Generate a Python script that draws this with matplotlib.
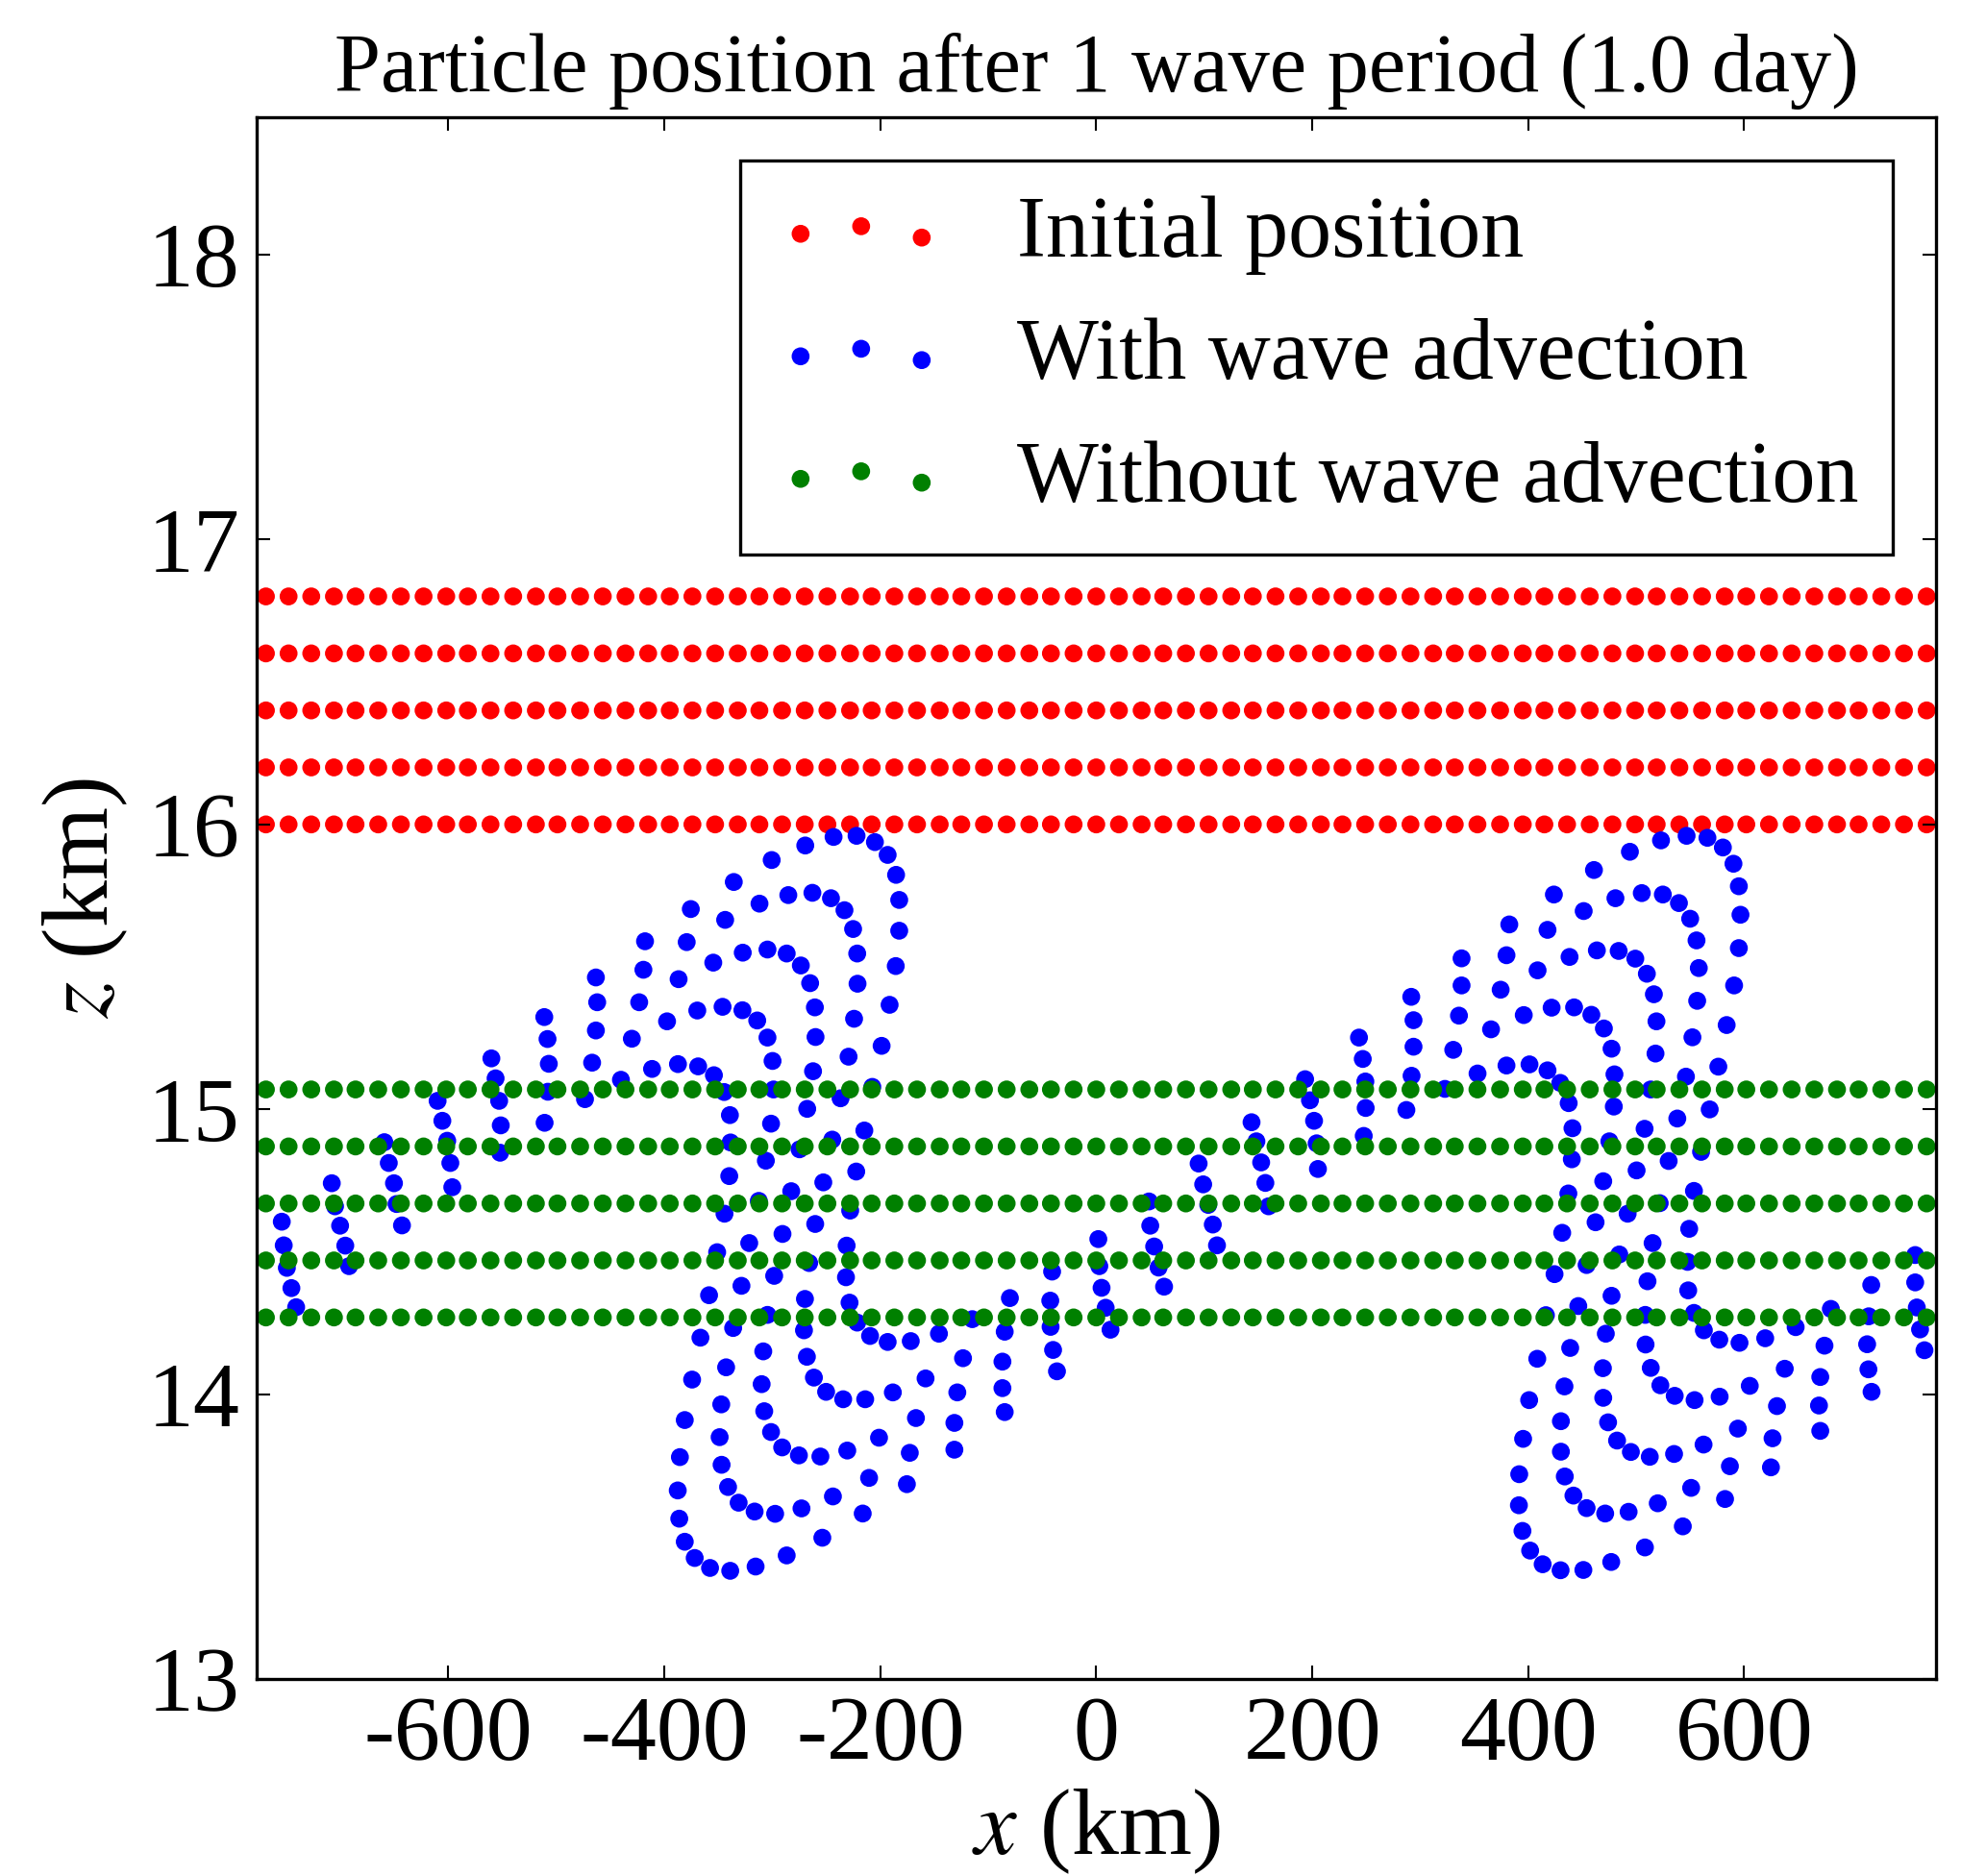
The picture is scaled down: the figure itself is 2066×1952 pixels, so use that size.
import numpy as np
import matplotlib
matplotlib.use("Agg")
import matplotlib.pyplot as plt

plt.rcParams['font.family'] = ['Liberation Serif', 'DejaVu Serif']
plt.rcParams['mathtext.fontset'] = 'stix'
plt.rcParams['axes.unicode_minus'] = False

# -----------------------------
# Particle grid (x in km, z in km)
# -----------------------------
x_grid = [-769, -748, -727, -706, -686, -665, -644, -623, -602, -582, -561,
          -540, -519, -499, -478, -457, -436, -415, -395, -374, -353, -332,
          -312, -291, -270, -249, -228, -208, -187, -166, -145, -125, -104,
          -83, -62, -42, -21, 0, 21, 42, 62, 83, 104, 125, 145, 166, 187,
          208, 228, 249, 270, 291, 312, 332, 353, 374, 395, 415, 436, 457,
          478, 499, 519, 540, 561, 582, 602, 623, 644, 665, 686, 706, 727,
          748, 769]
z_initial = [16.0, 16.2, 16.4, 16.6, 16.8]
z_no_wave = [14.27, 14.47, 14.67, 14.87, 15.07]

# -----------------------------
# Positions with wave advection
# -----------------------------
blue_pts = [
    # left loop, upper part
    (-335.7, 15.798), (-375.5, 15.703), (-343.7, 15.665), (-417.9, 15.590),
    (-379.3, 15.587), (-327.4, 15.550), (-354.7, 15.515), (-419.4, 15.490),
    (-463.4, 15.463), (-386.8, 15.457), (-462.2, 15.376), (-423.3, 15.376),
    (-369.5, 15.347), (-346.1, 15.360), (-327.7, 15.348), (-511.2, 15.324),
    (-397.5, 15.309), (-508.2, 15.247), (-463.4, 15.277), (-430.1, 15.248),
    (-560.2, 15.179), (-507.0, 15.160), (-466.9, 15.164), (-411.4, 15.142),
    (-387.4, 15.159), (-368.7, 15.151), (-354.1, 15.120), (-556.3, 15.109),
    (-440.2, 15.104), (-507.9, 15.062), (-344.6, 15.061), (-610.0, 15.030),
    (-553.0, 15.030), (-473.5, 15.036), (-605.6, 14.960), (-551.5, 14.944),
    (-510.9, 14.953), (-339.3, 14.980), (-659.3, 14.885), (-601.1, 14.890),
    (-338.7, 14.884), (-552.1, 14.848), (-655.2, 14.812), (-598.2, 14.812),
    (-708.0, 14.741), (-650.4, 14.741), (-596.4, 14.727), (-339.9, 14.766),
    (-311.9, 15.722), (-300.6, 15.875), (-269.5, 15.926), (-243.3, 15.956),
    (-222.0, 15.960), (-205.0, 15.938), (-193.2, 15.893), (-185.4, 15.823),
    (-182.5, 15.735), (-182.5, 15.627), (-185.7, 15.503), (-191.4, 15.367),
    (-198.8, 15.223), (-285.2, 15.752), (-262.9, 15.760), (-245.7, 15.741),
    (-233.2, 15.699), (-225.2, 15.633), (-221.4, 15.547), (-221.1, 15.441),
    (-224.3, 15.318), (-229.4, 15.185), (-304.5, 15.561), (-286.7, 15.547),
    (-273.6, 15.505), (-265.0, 15.443), (-260.6, 15.358), (-260.0, 15.254),
    (-262.3, 15.134), (-314.0, 15.312), (-304.5, 15.252), (-299.8, 15.170),
    (-298.9, 15.070), (-207.4, 15.079), (-236.8, 15.039), (-267.7, 15.002),
    (-301.2, 14.950), (-214.8, 14.926), (-244.5, 14.894), (-274.8, 14.860),
    (-306.0, 14.820), (-222.3, 14.782), (-252.8, 14.744), (-282.5, 14.713),
    (94.8, 14.810), (99.0, 14.737),
    # right loop, upper part
    (523.0, 15.944), (546.7, 15.960), (494.2, 15.904), (460.9, 15.840),
    (423.8, 15.754), (480.8, 15.741), (505.2, 15.759), (524.7, 15.754),
    (539.6, 15.724), (550.0, 15.669), (451.4, 15.696), (382.5, 15.649),
    (417.9, 15.630), (555.9, 15.593), (338.3, 15.530), (379.9, 15.541),
    (438.3, 15.535), (463.6, 15.558), (483.8, 15.556), (499.2, 15.529),
    (509.9, 15.476), (408.7, 15.488), (558.0, 15.496), (338.3, 15.435),
    (374.5, 15.420), (516.4, 15.404), (291.7, 15.395), (556.5, 15.381),
    (293.8, 15.313), (335.9, 15.329), (395.9, 15.331), (421.7, 15.357),
    (442.5, 15.358), (458.5, 15.332), (470.1, 15.284), (518.8, 15.309),
    (365.6, 15.281), (293.8, 15.220), (330.6, 15.209), (477.2, 15.213),
    (552.1, 15.253), (517.9, 15.196), (243.3, 15.252), (246.8, 15.177),
    (193.4, 15.106), (249.2, 15.098), (292.0, 15.118), (353.1, 15.126),
    (379.9, 15.154), (401.2, 15.158), (417.9, 15.137), (429.7, 15.093),
    (479.9, 15.123), (546.1, 15.115), (322.9, 15.072), (513.5, 15.070),
    (197.9, 15.032), (249.5, 15.005), (287.2, 14.998), (437.5, 15.022),
    (479.3, 15.010), (143.8, 14.955), (201.7, 14.960), (441.0, 14.934),
    (507.8, 14.932), (538.1, 14.968), (148.3, 14.888), (204.1, 14.881),
    (247.7, 14.907), (475.2, 14.888), (560.1, 14.851), (152.7, 14.814),
    (205.3, 14.791), (440.4, 14.825), (530.1, 14.819), (500.4, 14.786),
    (156.6, 14.742), (469.5, 14.748), (553.5, 14.714), (437.2, 14.705),
    (566.0, 15.953), (580.3, 15.919), (590.1, 15.862), (595.1, 15.783),
    (596.6, 15.683), (595.1, 15.566), (590.7, 15.435), (583.8, 15.296),
    (576.1, 15.150), (568.1, 15.000),
    # right edge, lower part
    (758.4, 14.489), (717.7, 14.384), (758.4, 14.393), (759.9, 14.305),
    (680.3, 14.300), (715.4, 14.274), (647.7, 14.236), (762.9, 14.228),
    (577.0, 14.192), (595.7, 14.181), (619.5, 14.197), (674.4, 14.171),
    (713.9, 14.176), (767.0, 14.155), (637.6, 14.090), (670.5, 14.061),
    (715.1, 14.088), (718.0, 14.009), (605.2, 14.030), (577.3, 13.992),
    (630.4, 13.959), (669.3, 13.961), (594.2, 13.880), (626.3, 13.846),
    (670.5, 13.872), (586.8, 13.748), (624.8, 13.744), (582.3, 13.633),
    # left edge and left loop, lower part
    (-705.0, 14.660), (-648.0, 14.668), (-754.3, 14.606), (-700.3, 14.592),
    (-643.0, 14.593), (-752.5, 14.523), (-695.5, 14.522), (-749.6, 14.444),
    (-692.0, 14.450), (-745.4, 14.373), (-741.0, 14.306), (-344.3, 14.634),
    (-321.4, 14.531), (-351.1, 14.499), (-328.6, 14.381), (-358.6, 14.348),
    (-336.3, 14.233), (-366.6, 14.199), (-342.8, 14.095), (-374.3, 14.052),
    (-347.3, 13.965), (-381.1, 13.910), (-348.8, 13.850), (-385.6, 13.780),
    (-347.0, 13.753), (-387.6, 13.663), (-341.0, 13.675), (-331.2, 13.620),
    (-386.2, 13.564), (-381.1, 13.483), (-371.9, 13.426), (-357.7, 13.391),
    (-339.0, 13.381),
    (-312.5, 14.679), (-227.9, 14.645), (-260.3, 14.598), (-290.6, 14.563),
    (-231.2, 14.522), (-265.9, 14.461), (-298.3, 14.416), (-231.8, 14.411),
    (-269.8, 14.335), (-228.5, 14.322), (-304.5, 14.279), (-221.4, 14.252),
    (-270.7, 14.225), (-209.5, 14.205), (-193.2, 14.184), (-171.8, 14.187),
    (-145.7, 14.213), (-114.8, 14.264), (-308.4, 14.151), (-268.0, 14.132),
    (-123.4, 14.127), (-261.5, 14.059), (-158.1, 14.056), (-309.9, 14.036),
    (-250.2, 14.009), (-234.4, 13.983), (-214.0, 13.983), (-188.4, 14.007),
    (-128.7, 14.007), (-307.5, 13.941), (-167.0, 13.917), (-131.4, 13.900),
    (-301.2, 13.868), (-290.9, 13.814), (-275.4, 13.786), (-255.5, 13.782),
    (-230.6, 13.803), (-201.2, 13.848), (-172.7, 13.795), (-131.4, 13.806),
    (-210.4, 13.707), (-175.4, 13.685), (-316.4, 13.589), (-297.4, 13.581),
    (-273.0, 13.600), (-243.9, 13.642), (-216.3, 13.582), (-253.7, 13.497),
    (-286.7, 13.435), (-315.5, 13.396),
    # middle columns
    (-84.8, 14.220), (-80.0, 14.338), (-86.9, 14.115), (-86.9, 14.022),
    (-84.8, 13.938), (-40.9, 14.431), (-42.6, 14.329), (-42.3, 14.237),
    (-40.0, 14.156), (-36.4, 14.081), (1.9, 14.545), (2.8, 14.450),
    (4.9, 14.374), (8.7, 14.304), (13.2, 14.227), (48.8, 14.677),
    (50.0, 14.592), (53.6, 14.519), (57.7, 14.445), (62.8, 14.378),
    (103.7, 14.665), (107.9, 14.596), (111.8, 14.523),
    # right loop, lower part
    (159.6, 14.660), (492.1, 14.634), (462.4, 14.604), (431.5, 14.567),
    (521.8, 14.671), (549.1, 14.581), (515.2, 14.531), (484.4, 14.491),
    (454.1, 14.454), (424.4, 14.422), (547.6, 14.465), (510.5, 14.397),
    (477.2, 14.346), (446.4, 14.310), (416.4, 14.278), (548.2, 14.365),
    (508.4, 14.279), (553.5, 14.286), (471.9, 14.213), (562.7, 14.225),
    (508.7, 14.175), (438.9, 14.163), (408.4, 14.125), (513.5, 14.093),
    (469.2, 14.092), (522.4, 14.032), (433.6, 14.028), (535.7, 13.995),
    (554.1, 13.980), (400.9, 13.980), (469.5, 13.988), (430.3, 13.906),
    (474.0, 13.902), (395.3, 13.844), (482.3, 13.838), (495.1, 13.798),
    (512.6, 13.781), (535.1, 13.791), (562.4, 13.824), (430.3, 13.799),
    (391.7, 13.720), (433.9, 13.712), (550.9, 13.672), (391.4, 13.611),
    (441.9, 13.645), (454.1, 13.601), (471.3, 13.582), (493.0, 13.588),
    (520.0, 13.618), (543.2, 13.537), (394.7, 13.521), (401.8, 13.452),
    (413.4, 13.404), (430.0, 13.383), (451.1, 13.384), (476.9, 13.412),
    (508.1, 13.463),
]
blue_x = [p[0] for p in blue_pts]
blue_z = [p[1] for p in blue_pts]

# -----------------------------
# Figure
# -----------------------------
fig = plt.figure(figsize=(2066 / 300, 1952 / 300), dpi=300)
ax = fig.add_axes([0.1290, 0.1048, 0.8460, 0.8325])

xr, zr = np.meshgrid(x_grid, z_initial)
xg, zg = np.meshgrid(x_grid, z_no_wave)

ax.scatter(xr.ravel(), zr.ravel(), s=20, c='r', edgecolors='none',
           label='Initial position')
ax.scatter(blue_x, blue_z, s=20, c='b', edgecolors='none',
           label='With wave advection')
ax.scatter(xg.ravel(), zg.ravel(), s=20, c='g', edgecolors='none',
           label='Without wave advection')

ax.set_xlim(-778, 778)
ax.set_ylim(13, 18.48)
ax.set_xticks([-600, -400, -200, 0, 200, 400, 600])
ax.set_yticks([13, 14, 15, 16, 17, 18])
ax.tick_params(direction='in', top=True, right=True, length=3.3, width=0.5,
               labelsize=23, pad=4)
for sp in ax.spines.values():
    sp.set_linewidth(0.8)

ax.set_xlabel(r'$x$ (km)', fontsize=23.5)
ax.set_ylabel(r'$z$ (km)', fontsize=23.5)
ax.xaxis.set_label_coords(0.5, -0.069)
ax.yaxis.set_label_coords(-0.075, 0.5)
ax.set_title('Particle position after 1 wave period (1.0 day)',
             fontsize=20.7, pad=6.6)

leg = ax.legend(loc='upper right', fontsize=21.6, scatterpoints=3,
                scatteryoffsets=[0.375, 0.5, 0.3125], fancybox=False,
                framealpha=1, edgecolor='k', borderaxespad=0.5,
                borderpad=0.4, labelspacing=0.5, handlelength=2.0,
                handletextpad=0.8)
leg.get_frame().set_linewidth(0.8)

fig.savefig('out.png', dpi=300)
